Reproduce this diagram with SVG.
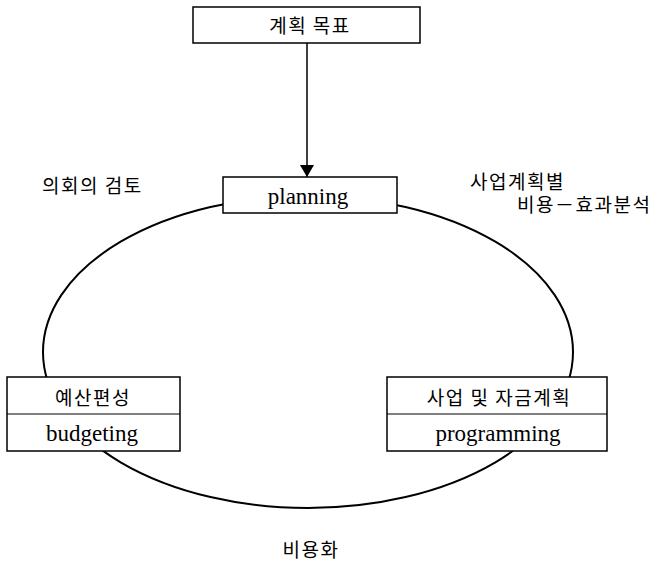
<svg xmlns="http://www.w3.org/2000/svg" width="654" height="563" viewBox="0 0 654 563">
<style>
.box{fill:#fff;stroke:#000;stroke-width:1.5}
.ko{font-family:"Noto Sans CJK KR","Noto Sans",sans-serif;font-size:19px;letter-spacing:1.5px;fill:#000}
.en{font-family:"Liberation Serif",serif;font-size:23px;fill:#000}
.ln{fill:none;stroke:#000;stroke-width:2}
</style>
<defs>
<marker id="arr" markerWidth="12" markerHeight="14" refX="12" refY="7" orient="auto" markerUnits="userSpaceOnUse">
<path d="M0,0 L12,7 L0,14 Z" fill="#000"/>
</marker>
</defs>
<g id="connectors">
<ellipse class="ln" cx="308" cy="352" rx="265" ry="156"/>
<line x1="307" y1="43" x2="307" y2="177" stroke="#000" stroke-width="1.5" marker-end="url(#arr)"/>
</g>
<g id="goal">
<rect class="box" x="193" y="7" width="227" height="36"/>
<text class="ko" x="310" y="33" text-anchor="middle">계획 목표</text>
</g>
<g id="planning">
<rect class="box" x="223" y="177" width="174" height="36"/>
<text class="en" x="308" y="204" text-anchor="middle">planning</text>
</g>
<g id="budgeting">
<rect class="box" x="7" y="377" width="173" height="74"/>
<line x1="7" y1="414" x2="180" y2="414" stroke="#000" stroke-width="1.2"/>
<text class="ko" x="93" y="405" text-anchor="middle">예산편성</text>
<text class="en" x="92" y="441" text-anchor="middle">budgeting</text>
</g>
<g id="programming">
<rect class="box" x="387" y="377" width="220" height="74"/>
<line x1="387" y1="414" x2="607" y2="414" stroke="#000" stroke-width="1.2"/>
<text class="ko" x="499" y="405" text-anchor="middle">사업 및 자금계획</text>
<text class="en" x="498" y="441" text-anchor="middle">programming</text>
</g>
<g id="labels">
<text class="ko" x="42" y="193">의회의 검토</text>
<text class="ko" x="470" y="189">사업계획별</text>
<text class="ko" x="517" y="212">비용－효과분석</text>
<text class="ko" x="311" y="557" text-anchor="middle">비용화</text>
</g>
</svg>
